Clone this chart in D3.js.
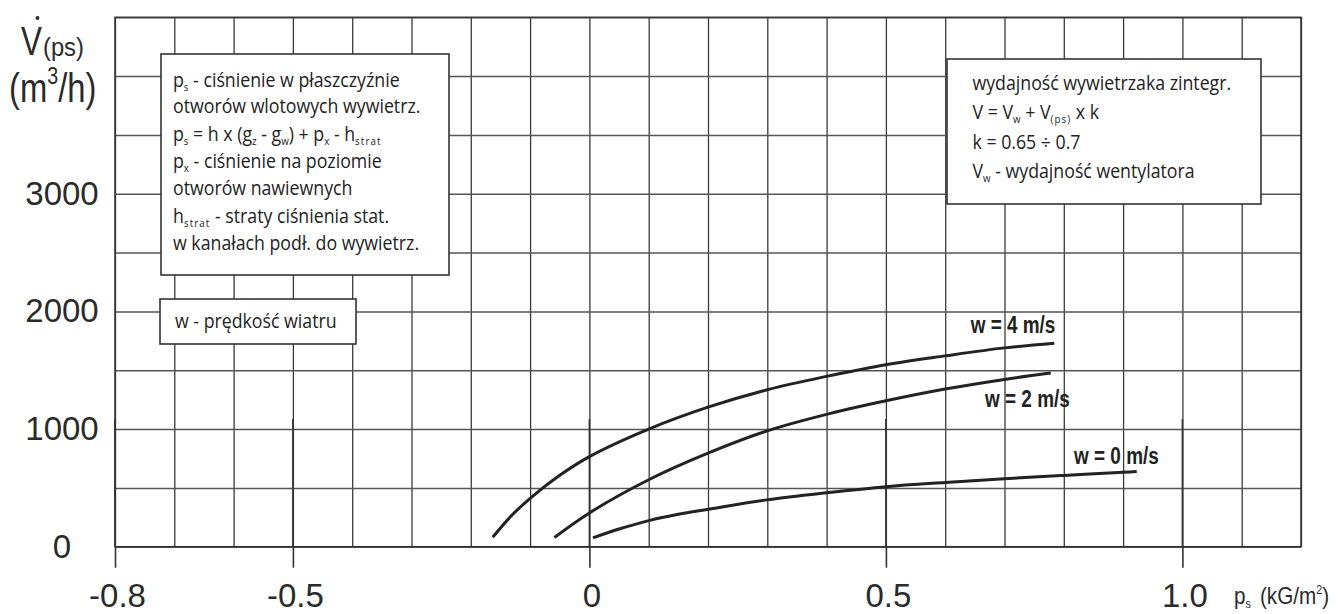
<!DOCTYPE html>
<html>
<head>
<meta charset="utf-8">
<script src="https://cdn.jsdelivr.net/npm/d3@7"></script>
<style>
  body { margin: 0; background: #fff; }
  svg { display: block; }
</style>
</head>
<body>
<svg id="chart" width="1339" height="614"></svg>
<script>
// Axis domains and tick labels
const xDomain = [-0.8, 1.2];
const yDomain = [0, 4500];
const xTickValues = [-0.8, -0.5, 0, 0.5, 1.0];
const xTickLabels = ["-0.8", "-0.5", "0", "0.5", "1.0"];
const yTickValues = [0, 1000, 2000, 3000];
const yTickLabels = ["0", "1000", "2000", "3000"];

// Characteristic curves: static pressure p_s (kG/m2) vs. airflow V(ps) (m3/h)
const ps_w4 = [-0.163, -0.13, -0.097, -0.05, 0, 0.1, 0.2, 0.3, 0.4, 0.5, 0.6, 0.7, 0.784];
const v_w4  = [81, 271, 424, 607, 766, 1000, 1186, 1334, 1448, 1547, 1622, 1690, 1730];

const ps_w2 = [-0.059, 0, 0.1, 0.2, 0.3, 0.4, 0.5, 0.6, 0.7, 0.778];
const v_w2  = [78, 287, 569, 795, 985, 1125, 1240, 1340, 1422, 1476];

const ps_w0 = [0.006, 0.05, 0.1, 0.15, 0.2, 0.3, 0.4, 0.5, 0.6, 0.7, 0.8, 0.9, 0.923];
const v_w0  = [75, 150, 222, 276, 318, 398, 458, 510, 546, 578, 606, 632, 640];

const seriesLabels = ["w = 4 m/s", "w = 2 m/s", "w = 0 m/s"];

const svg = d3.select("#chart");
const X0 = 115, X1 = 1301, Y0 = 546.7, Y1 = 17.3;
const x = d3.scaleLinear().domain(xDomain).range([X0, X1]);
const y = d3.scaleLinear().domain(yDomain).range([Y0, Y1]);
const ink = "#2a2a2a";

// ---- grid (every 0.1 kG/m2 and every 500 m3/h) ----
const gridX = d3.range(0, 21).map(i => +(xDomain[0] + i * 0.1).toFixed(2));
const gridY = d3.range(0, 10).map(i => i * 500);

const gx = svg.append("g").attr("transform", `translate(0,${Y0})`)
  .call(d3.axisBottom(x).tickValues(gridX).tickSize(-(Y0 - Y1)).tickFormat(""));
gx.select(".domain").remove();
gx.selectAll("line").attr("stroke", "#3a3a3a").attr("stroke-width", 1.3);

const gy = svg.append("g").attr("transform", `translate(${X0},0)`)
  .call(d3.axisLeft(y).tickValues(gridY).tickSize(-(X1 - X0)).tickFormat(""));
gy.select(".domain").remove();
gy.selectAll("line").attr("stroke", "#555").attr("stroke-width", 1.5);

// frame
svg.append("rect").attr("x", X0).attr("y", Y1).attr("width", X1 - X0).attr("height", Y0 - Y1)
  .attr("fill", "none").attr("stroke", "#333").attr("stroke-width", 1.5);

// ---- major x ticks with labels ----
const ax = svg.append("g").attr("transform", `translate(0,${Y0})`)
  .call(d3.axisBottom(x).tickValues(xTickValues).tickSize(21).tickPadding(16)
    .tickFormat((d, i) => xTickLabels[i]));
ax.select(".domain").remove();
ax.selectAll("line").attr("stroke", "#333").attr("stroke-width", 1.6);
ax.selectAll("text").attr("font-family", "'Liberation Sans', Arial, sans-serif")
  .attr("font-size", 33).attr("fill", ink).attr("dx", 2);
// darker upper part of the major ticks
svg.append("g").selectAll("line").data(xTickValues).join("line")
  .attr("x1", d => x(d)).attr("x2", d => x(d))
  .attr("y1", y(1000) - 10).attr("y2", Y0)
  .attr("stroke", "#333").attr("stroke-width", 1.6);

// ---- y tick labels ----
svg.append("g").selectAll("text").data(yTickValues).join("text")
  .attr("x", 62).attr("y", d => y(d) + 11)
  .attr("text-anchor", "middle")
  .attr("font-family", "'Liberation Sans', Arial, sans-serif")
  .attr("font-size", 33).attr("fill", ink)
  .text((d, i) => yTickLabels[i]);

// ---- axis titles ----
const yt = svg.append("g").attr("font-family", "'Liberation Sans', Arial, sans-serif").attr("fill", ink);
yt.append("text").attr("transform", "translate(21,55) scale(0.95,1.25)").attr("font-size", 33).text("V");
yt.append("circle").attr("cx", 37.5).attr("cy", 18).attr("r", 1.9).attr("fill", ink);
yt.append("text").attr("transform", "translate(43,56) scale(0.95,1.05)").attr("font-size", 25).text("(ps)");
const mh = yt.append("text").attr("transform", "translate(9,102) scale(0.82,1)").attr("font-size", 40);
mh.append("tspan").text("(m");
mh.append("tspan").attr("font-size", 24).attr("dy", -18).text("3");
mh.append("tspan").attr("dy", 18).text("/h)");

const xt = svg.append("text").attr("transform", "translate(1234,604) scale(0.9,1.05)")
  .attr("font-family", "'Liberation Sans', Arial, sans-serif").attr("font-size", 23).attr("fill", ink);
xt.append("tspan").text("p");
xt.append("tspan").attr("font-size", 12).attr("dy", 4).text("s");
xt.append("tspan").attr("dy", -4).attr("dx", 10).text("(kG/m");
xt.append("tspan").attr("font-size", 12).attr("dy", -10).text("2");
xt.append("tspan").attr("dy", 10).text(")");

// ---- curves ----
const series = [
  { ps: ps_w4, v: v_w4, label: seriesLabels[0], off: [1, -10] },
  { ps: ps_w2, v: v_w2, label: seriesLabels[1], off: [19, 34] },
  { ps: ps_w0, v: v_w0, label: seriesLabels[2], off: [22, -7] }
];
const line = d3.line().x(d => x(d[0])).y(d => y(d[1])).curve(d3.curveCatmullRom.alpha(0.5));
series.forEach(s => {
  const pts = s.ps.map((p, i) => [p, s.v[i]]);
  svg.append("path").datum(pts).attr("d", line)
    .attr("fill", "none").attr("stroke", "#222").attr("stroke-width", 3);
  const last = pts[pts.length - 1];
  svg.append("text")
    .attr("transform", `translate(${x(last[0]) + s.off[0]},${y(last[1]) + s.off[1]}) scale(0.86,1.05)`)
    .attr("text-anchor", "end")
    .attr("font-family", "'Liberation Sans', Arial, sans-serif")
    .attr("font-weight", "bold").attr("font-size", 22).attr("fill", "#222")
    .text(s.label);
});

// ---- annotation boxes ----
function box(x0, y0, w, h) {
  svg.append("rect").attr("x", x0).attr("y", y0).attr("width", w).attr("height", h)
    .attr("fill", "#fff").attr("stroke", "#333").attr("stroke-width", 1.6);
}
// lines are arrays of [text, kind] where kind is "sub" or undefined
function richLines(tx, baselines, lines, size, sx) {
  const g = svg.append("g").attr("transform", `translate(${tx},0) scale(${sx},1)`)
    .attr("font-family", "'Open Sans', 'Noto Sans', sans-serif").attr("fill", "#222");
  lines.forEach((parts, li) => {
    const t = g.append("text").attr("x", 0).attr("y", baselines[li]).attr("font-size", size);
    let shifted = false;
    parts.forEach(([str, kind]) => {
      const sp = t.append("tspan").text(str);
      if (kind === "sub") {
        sp.attr("font-size", size * 0.55).attr("dy", 4).attr("letter-spacing", str.length > 2 ? 1.2 : 0);
        shifted = true;
      } else if (shifted) {
        sp.attr("dy", -4);
        shifted = false;
      }
    });
  });
}

box(161, 54, 288, 221);
richLines(173, [86.7, 113.5, 140.7, 168, 195, 223, 250], [
  [["p"], ["s", "sub"], [" - ciśnienie w płaszczyźnie"]],
  [["otworów wlotowych wywietrz."]],
  [["p"], ["s", "sub"], [" = h x (g"], ["z", "sub"], [" - g"], ["w", "sub"], [") + p"], ["x", "sub"], [" - h"], ["strat", "sub"]],
  [["p"], ["x", "sub"], [" - ciśnienie na poziomie"]],
  [["otworów nawiewnych"]],
  [["h"], ["strat", "sub"], [" - straty ciśnienia stat."]],
  [["w kanałach podł. do wywietrz."]]
], 19.5, 0.91);

box(160, 299, 196, 45);
richLines(175, [328], [[["w - prędkość wiatru"]]], 19.5, 0.91);

box(947, 59, 314, 145);
richLines(972.5, [90, 119.5, 149, 178], [
  [["wydajność wywietrzaka zintegr."]],
  [["V = V"], ["w", "sub"], [" + V"], ["(ps)", "sub"], [" x k"]],
  [["k = 0.65 ÷ 0.7"]],
  [["V"], ["w", "sub"], [" - wydajność wentylatora"]]
], 19.5, 0.91);
</script>
</body>
</html>
